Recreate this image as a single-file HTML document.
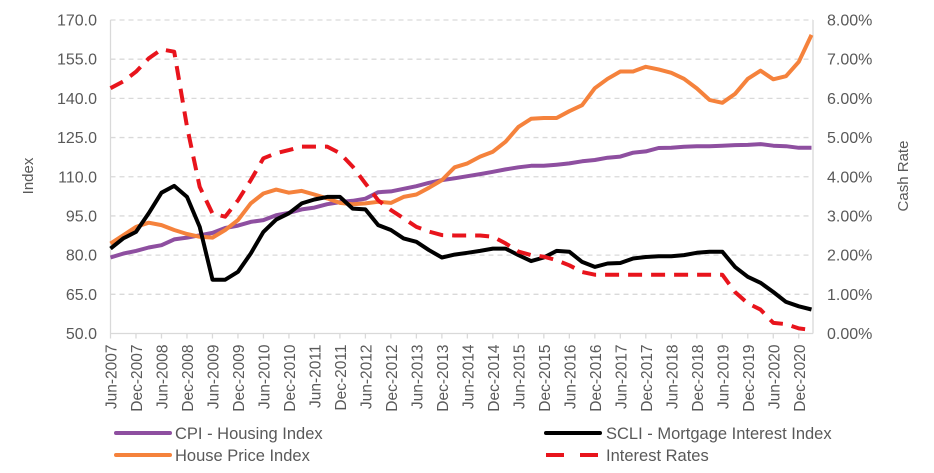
<!DOCTYPE html>
<html><head><meta charset="utf-8"><style>
body{margin:0;background:#fff;font-family:"Liberation Sans",Arial,sans-serif;}
svg text{fill:#595959;font-family:"Liberation Sans",Arial,sans-serif;}
</style></head><body>
<svg id="chart" width="934" height="468" xmlns="http://www.w3.org/2000/svg">
<g id="grid"></g>
<g id="axes"></g>
<g id="series"></g>
<text transform="translate(33,176) rotate(-90)" text-anchor="middle" font-size="15">Index</text>
<text transform="translate(908,176) rotate(-90)" text-anchor="middle" font-size="15">Cash Rate</text>
<g font-size="16.5">
<g><line x1="116" y1="433" x2="170" y2="433" stroke="#8e4fa0" stroke-width="4" stroke-linecap="round"/><text x="175" y="439">CPI - Housing Index</text></g>
<g><line x1="546" y1="433" x2="600" y2="433" stroke="#000" stroke-width="4" stroke-linecap="round"/><text x="606" y="439">SCLI - Mortgage Interest Index</text></g>
<g><line x1="116" y1="455" x2="170" y2="455" stroke="#f5823c" stroke-width="4" stroke-linecap="round"/><text x="175" y="461">House Price Index</text></g>
<g><line x1="546" y1="455" x2="600" y2="455" stroke="#e8141c" stroke-width="4" stroke-dasharray="18,16"/><text x="606" y="461">Interest Rates</text></g>
</g>
</svg>
<script>
const yTicks=["50.0","65.0","80.0","95.0","110.0","125.0","140.0","155.0","170.0"];
const y2Ticks=["0.00%","1.00%","2.00%","3.00%","4.00%","5.00%","6.00%","7.00%","8.00%"];
const xLabels=["Jun-2007","Dec-2007","Jun-2008","Dec-2008","Jun-2009","Dec-2009","Jun-2010","Dec-2010","Jun-2011","Dec-2011","Jun-2012","Dec-2012","Jun-2013","Dec-2013","Jun-2014","Dec-2014","Jun-2015","Dec-2015","Jun-2016","Dec-2016","Jun-2017","Dec-2017","Jun-2018","Dec-2018","Jun-2019","Dec-2019","Jun-2020","Dec-2020"];
const cpi=[79.1,80.6,81.6,82.9,83.8,86,86.7,87.6,88.5,90.4,91.3,92.7,93.4,95.3,96.2,97.5,98.2,99.5,100.3,100.8,101.6,104.1,104.4,105.4,106.4,107.7,108.7,109.4,110.2,111,111.9,112.8,113.6,114.2,114.2,114.6,115.1,115.9,116.4,117.3,117.7,119.2,119.7,121,121.1,121.5,121.7,121.7,121.9,122.1,122.2,122.5,121.9,121.7,121.1,121.1];
const hpi=[84.4,87.6,90.8,92.4,91.5,89.6,88.1,87,86.7,89.6,93.4,99.8,103.6,105.1,103.9,104.6,103.2,101.7,100,99.5,99.8,100.4,100,102.3,103.2,105.8,108.7,113.6,115.1,117.7,119.6,123.4,129.1,132.2,132.5,132.5,135.1,137.4,143.9,147.5,150.3,150.3,152.1,151.1,149.8,147.5,143.8,139.4,138.3,141.7,147.5,150.6,147.3,148.5,154,164.3];
const scli=[82.5,86.4,88.9,96,103.9,106.5,102.3,90.8,70.6,70.6,73.6,80.6,88.9,93.6,96,99.8,101.3,102.3,102.3,97.8,97.5,91.5,89.6,86.4,85.1,81.9,79.1,80.2,80.9,81.6,82.5,82.5,80,77.7,79.1,81.6,81.3,77.4,75.5,76.8,77,78.7,79.3,79.6,79.6,80,80.9,81.3,81.3,75.5,71.7,69.4,65.9,62.1,60.4,59.2];
const rates=[6.26,6.43,6.68,7.02,7.25,7.19,5.28,3.74,3.06,2.98,3.4,3.91,4.47,4.6,4.68,4.77,4.77,4.77,4.6,4.26,3.83,3.4,3.15,2.94,2.72,2.6,2.51,2.5,2.5,2.5,2.47,2.3,2.09,2.0,1.96,1.87,1.74,1.57,1.5,1.5,1.5,1.5,1.5,1.5,1.5,1.5,1.5,1.5,1.5,1.06,0.77,0.61,0.27,0.24,0.13,0.09];
const NS="http://www.w3.org/2000/svg";
const X0=110.5,X1=811.5,Y0=333.5,Y1=20;
const n=cpi.length;
const x=i=>X0+(X1-X0)*i/(n-1);
const y=v=>Y0-(v-50)/120*(Y0-Y1);
const y2=v=>Y0-v/8*(Y0-Y1);
function mk(tag,attrs,parent){const e=document.createElementNS(NS,tag);for(const k in attrs)e.setAttribute(k,attrs[k]);parent.appendChild(e);return e;}
const grid=document.getElementById('grid'),axes=document.getElementById('axes'),ser=document.getElementById('series');
yTicks.forEach((t,i)=>{const v=50+15*i;const yy=y(v);
 if(i>0){const g=mk('line',{x1:X0,x2:X1+1.5,y1:yy,y2:yy,stroke:'#d9d9d9','stroke-width':1.3,'stroke-dasharray':'5,4'},grid);}
 const tx=mk('text',{x:97,y:yy+5.5,'text-anchor':'end','font-size':16},axes);tx.textContent=t;
 
 
});
y2Ticks.forEach((t,i)=>{const yy=y2(i);
 const tx=mk('text',{x:827,y:yy+5.5,'text-anchor':'start','font-size':16},axes);tx.textContent=t;
 
 
});
mk('line',{x1:X0,x2:X0,y1:Y1,y2:Y0,stroke:'#d9d9d9','stroke-width':1.3},axes);
mk('line',{x1:X1+1.5,x2:X1+1.5,y1:Y1,y2:Y0,stroke:'#d9d9d9','stroke-width':1.3},axes);
mk('line',{x1:X0,x2:X1+1.5,y1:Y0,y2:Y0,stroke:'#d9d9d9','stroke-width':1.3},axes);
xLabels.forEach((t,i)=>{const xx=x(i*2);
 mk('line',{x1:xx,x2:xx,y1:Y0,y2:Y0+5,stroke:'#d9d9d9','stroke-width':1.3},axes);
 const tx=mk('text',{transform:`translate(${xx+6},${Y0+11}) rotate(-90)`,'text-anchor':'end','font-size':15.5},axes);tx.textContent=t;
 
 
});
function line(arr,fy,color,name,dash){
 const d=arr.map((v,i)=>(i?'L':'M')+x(i).toFixed(1)+','+fy(v).toFixed(1)).join('');
 const p=mk('path',{d:d,fill:'none',stroke:color,'stroke-width':4,'stroke-linejoin':'round'},ser);
 if(dash)p.setAttribute('stroke-dasharray',dash);
 
 
}
line(cpi,y,'#8e4fa0','cpi-housing-line');
line(hpi,y,'#f5823c','house-price-line');
line(scli,y,'#000000','scli-mortgage-line');
line(rates,y2,'#e8141c','interest-rates-line','14,9');
</script>
</body></html>
